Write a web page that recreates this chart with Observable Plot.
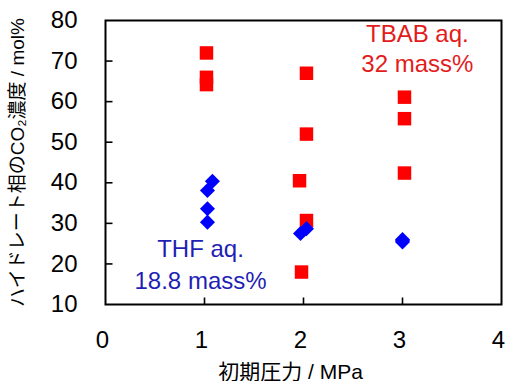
<!DOCTYPE html>
<html>
<head>
<meta charset="utf-8">
<script src="https://cdn.jsdelivr.net/npm/d3@7"></script>
<script src="https://cdn.jsdelivr.net/npm/@observablehq/plot@0.6"></script>
<style>
  html, body { margin: 0; padding: 0; background: #fff; }
  #chart svg { display: block; }
</style>
</head>
<body>
<div id="chart"></div>
<script>
// Initial pressure (MPa) and CO2 concentration in the hydrate phase (mol%)
const tbabPressure = [1.02, 1.02, 1.02, 2.03, 2.03, 1.96, 2.03, 1.98, 3.02, 3.02, 3.02];
const tbabCO2      = [72.0, 66.0, 64.2, 67.0, 52.0, 40.5, 30.7, 18.0, 61.1, 55.8, 42.4];
const thfPressure  = [1.08, 1.03, 1.03, 1.03, 1.97, 2.03, 3.0, 3.0, 3.0];
const thfCO2       = [40.4, 38.1, 33.6, 30.3, 27.5, 28.7, 26.0, 25.7, 25.4];

const xTicks = [0, 1, 2, 3, 4];
const yTicks = [10, 20, 30, 40, 50, 60, 70, 80];

const labels = [
  {x: 3.15, y: 74.6, text: "TBAB aq.", color: "#e31b1b"},
  {x: 3.15, y: 67.2, text: "32 mass%", color: "#e31b1b"},
  {x: 0.96, y: 21.6, text: "THF aq.", color: "#1f1fb4"},
  {x: 0.96, y: 13.9, text: "18.8 mass%", color: "#1f1fb4"}
];

const tbab = tbabPressure.map((p, i) => ({p, c: tbabCO2[i]}));
const thf = thfPressure.map((p, i) => ({p, c: thfCO2[i]}));

const font = "'Liberation Sans', Arial, 'Noto Sans CJK JP', sans-serif";

// short tick strokes that point into the plot area
const tickUp = {draw(ctx) { ctx.moveTo(0, 0); ctx.lineTo(0, -7); }};
const tickRight = {draw(ctx) { ctx.moveTo(0, 0); ctx.lineTo(7, 0); }};

const chart = Plot.plot({
  width: 505,
  height: 381,
  marginLeft: 105,
  marginRight: 4,
  marginTop: 20,
  marginBottom: 77,
  style: {fontFamily: font, background: "#fff", color: "#000"},
  x: {domain: [0, 4]},
  y: {domain: [10, 80]},
  marks: [
    Plot.axisX({ticks: xTicks, tickSize: 0, tickPadding: 26, fontSize: 24, dx: -3, label: null, tickFormat: d => d}),
    Plot.axisY({ticks: yTicks, tickSize: 0, tickPadding: 28, fontSize: 24, label: null, tickFormat: d => d}),
    Plot.dot(xTicks.slice(1, -1), {x: d => d, frameAnchor: "bottom", symbol: tickUp, stroke: "#000", strokeWidth: 1.6, fill: "none"}),
    Plot.dot(yTicks.slice(1, -1), {y: d => d, frameAnchor: "left", symbol: tickRight, stroke: "#000", strokeWidth: 1.6, fill: "none"}),
    Plot.text(["初期圧力 / MPa"], {
      frameAnchor: "bottom", dy: 74, dx: -13, fontSize: 21, fill: "#000"
    }),
    Plot.text(["ハイドレート相のCO₂濃度 / mol%"], {
      frameAnchor: "left", textAnchor: "middle", dx: -88, rotate: -90, fontSize: 19, fill: "#000"
    }),
    Plot.dot(tbab, {x: "p", y: "c", symbol: "square", r: 7.6, fill: "#ff0000", stroke: "none"}),
    Plot.dot(thf, {x: "p", y: "c", symbol: "square", r: 6, rotate: 45, fill: "#0000ff", stroke: "none"}),
    Plot.text(labels, {
      x: "x", y: "y", text: "text", fill: d => d.color,
      fontSize: 24, lineAnchor: "bottom", textAnchor: "middle"
    }),
    Plot.frame({stroke: "#000", strokeWidth: 2})
  ]
});

document.getElementById("chart").append(chart);
</script>
</body>
</html>
